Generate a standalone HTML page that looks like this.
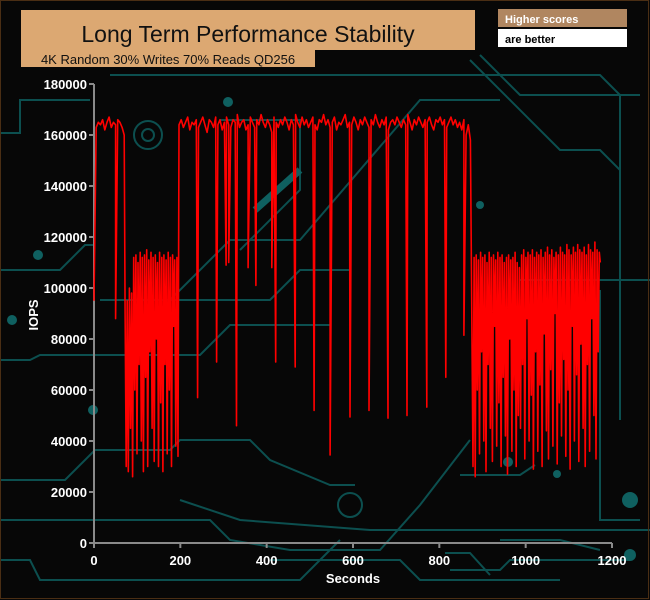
<!DOCTYPE html>
<html><head><meta charset="utf-8"><style>
html,body{margin:0;padding:0;background:#080808;}
#wrap{position:relative;width:650px;height:600px;overflow:hidden;background:#070707;font-family:"Liberation Sans",sans-serif;}
</style></head><body>
<div id="wrap">
<svg id="svg" width="650" height="600" viewBox="0 0 650 600">
<g id="bg" stroke="#0c4f4f" stroke-width="2" fill="none">
<path d="M0 270 L60 270 L85 245 L95 245"/>
<path d="M0 133 L20 133 L20 100 L90 100"/>
<path d="M100 300 L270 300 L300 270 L350 270"/>
<path d="M0 360 L30 360 L40 355 L200 355 L230 325 L330 325"/>
<path d="M150 320 L230 240 L300 240 L420 100 L500 100"/>
<path d="M0 480 L65 480 L95 450 L170 450 L180 440 L250 440 L270 460 L330 485 L355 485"/>
<path d="M0 520 L210 520 L230 540 L290 550 L380 550 L420 505 L470 440"/>
<path d="M0 560 L30 560 L40 580 L300 580 L340 540"/>
<path d="M180 500 L240 520 L370 530 L650 530"/>
<path d="M110 75 L600 75 L620 95 L620 200"/>
<path d="M480 55 L520 95 L640 95"/>
<path d="M470 60 L560 150 L600 150 L620 170 L620 420"/>
<path d="M220 120 L300 120 L300 190 L240 250"/>
<path d="M500 540 L560 540 L600 550"/>
<path d="M450 570 L500 570 L510 560 L630 560"/>
<path d="M445 553 L470 553 L490 575"/>
<path d="M520 280 L650 280 M600 290 L600 520 L640 520"/>
<path d="M460 475 L520 475 L535 465"/>
<path d="M270 560 L400 560 L420 580 L560 580"/>
<circle cx="148" cy="135" r="14"/><circle cx="148" cy="135" r="6"/>
<circle cx="350" cy="505" r="12"/>
</g>
<g fill="#0f6060">
<circle cx="38" cy="255" r="5"/><circle cx="93" cy="410" r="5"/><circle cx="630" cy="500" r="8"/><circle cx="630" cy="555" r="6"/>
<circle cx="228" cy="102" r="5"/><circle cx="508" cy="462" r="5"/><circle cx="557" cy="474" r="4"/><circle cx="480" cy="205" r="4"/>
<circle cx="12" cy="320" r="5"/>
</g>
<path d="M255 210 L300 170" stroke="#0f6060" stroke-width="7"/>
<rect x="0.5" y="0.5" width="648" height="598" fill="none" stroke="#4a2e14" stroke-width="1"/>
<rect x="21" y="10" width="454" height="40" fill="#dca872"/>
<text x="248" y="42" font-size="23" text-anchor="middle" fill="#111">Long Term Performance Stability</text>
<rect x="21" y="50" width="294" height="17" fill="#dca872"/>
<text x="168" y="64" font-size="13" text-anchor="middle" fill="#111">4K Random 30% Writes 70% Reads QD256</text>
<rect x="498" y="9" width="129" height="18" fill="#b08660"/>
<text x="505" y="23" font-size="11" font-weight="bold" fill="#fff">Higher scores</text>
<rect x="498" y="29" width="129" height="18" fill="#fff"/>
<text x="505" y="43" font-size="11" font-weight="bold" fill="#000">are better</text>
<g id="axes"></g>
<g id="series"></g>
</svg>
</div>
<script>
const yTicks=[0,20000,40000,60000,80000,100000,120000,140000,160000,180000];
const xTicks=[0,200,400,600,800,1000,1200];
const hiAStart=0, hiAStep=5;
const hiAValues=[95000,163000,165000,164000,166000,162000,165000,167000,163000,165000,164000,166000,165000,163000,160000];
const lowAStart=72, lowAStep=2.5;
const lowAValues=[90000,30000,95000,28000,100000,45000,98000,26000,112000,60000,113000,35000,110000,70000,114000,40000,112000,28000,113000,65000,115000,30000,111000,75000,114000,45000,112000,32000,113000,80000,110000,30000,114000,55000,112000,28000,113000,70000,111000,35000,114000,60000,112000,30000,113000,85000,111000,38000,112000,34000];
const hiBStart=197, hiBStep=5;
const hiBValues=[
164000,166000,163000,165000,167000,162000,165000,164000,166000,163000,
165000,167000,164000,161000,166000,165000,163000,167000,164000,166000,
162000,165000,167000,164000,163000,166000,165000,168000,163000,165000,
166000,162000,164000,167000,165000,163000,166000,164000,168000,165000,
163000,166000,164000,161000,167000,165000,163000,166000,164000,167000,
165000,162000,166000,164000,168000,165000,163000,167000,164000,166000,
163000,165000,167000,164000,162000,166000,165000,168000,164000,166000,
163000,165000,167000,162000,165000,164000,166000,168000,163000,165000,
164000,167000,165000,162000,166000,164000,167000,165000,163000,166000,
164000,168000,165000,163000,166000,164000,167000,162000,165000,166000,
164000,167000,165000,163000,166000,164000,168000,165000,162000,166000,
164000,167000,165000,163000,166000,165000,167000,164000,162000,166000,
165000,167000,164000,166000,163000,165000,167000,164000,166000,163000,
165000,162000,166000,160000,164000,158000];
const lowBStart=878, lowBStep=2.5;
const lowBValues=[
30000,112000,26000,113000,60000,111000,35000,114000,75000,112000,
40000,113000,28000,110000,70000,114000,45000,112000,32000,113000,
85000,111000,38000,114000,55000,112000,30000,113000,65000,110000,
42000,112000,27000,113000,80000,111000,36000,112000,60000,114000,
30000,110000,50000,108000,45000,113000,70000,115000,33000,112000,
88000,114000,40000,113000,58000,115000,29000,112000,75000,114000,
36000,113000,62000,115000,30000,112000,82000,114000,44000,116000,
33000,113000,68000,115000,38000,112000,90000,114000,31000,113000,
55000,116000,42000,114000,72000,113000,34000,117000,60000,115000,
29000,113000,85000,116000,40000,114000,66000,117000,32000,115000,
78000,114000,45000,116000,30000,113000,70000,117000,36000,115000,
88000,114000,50000,118000,33000,115000,75000,114000,110000];
const dipTimes=[50,240,284,306,312,330,357,375,412,421,466,510,547,593,637,681,725,771,815,857];
const dipValues=[88000,57000,71000,109000,110000,46000,108000,101000,108000,71000,69000,52000,34500,49400,52000,49000,50000,53300,65000,81500];

const X0=94, XW=518, Y0=543, YH=459;
function xs(t){return X0+t/1200*XW;}
function ys(v){return Y0-v/180000*YH;}
const NS="http://www.w3.org/2000/svg";
const axes=document.getElementById('axes');
const series=document.getElementById('series');
function mk(tag,attrs,parent){const e=document.createElementNS(NS,tag);for(const k in attrs)e.setAttribute(k,attrs[k]);parent.appendChild(e);return e;}

let yl=mk('line',{x1:X0,y1:Y0,x2:X0,y2:ys(180000),stroke:'#8a8a8a','stroke-width':2},axes);


let xl=mk('line',{x1:X0,y1:Y0,x2:xs(1200),y2:Y0,stroke:'#8a8a8a','stroke-width':2},axes);


yTicks.forEach(v=>{
  let tk=mk('line',{x1:X0-5,y1:ys(v),x2:X0,y2:ys(v),stroke:'#8a8a8a','stroke-width':2},axes);
  
  
  let t=mk('text',{x:X0-7,y:ys(v)+5,'font-size':13,'font-weight':'bold',fill:'#fff','text-anchor':'end'},axes);
  t.textContent=v;
  
  
});
xTicks.forEach(v=>{
  let tk=mk('line',{x1:xs(v),y1:Y0,x2:xs(v),y2:Y0+5,stroke:'#8a8a8a','stroke-width':2},axes);
  
  
  let t=mk('text',{x:xs(v),y:Y0+22,'font-size':13,'font-weight':'bold',fill:'#fff','text-anchor':'middle'},axes);
  t.textContent=v;
  
  
});
let xt=mk('text',{x:353,y:583,'font-size':13,'font-weight':'bold',fill:'#fff','text-anchor':'middle'},axes);
xt.textContent='Seconds';


let yt=mk('text',{x:0,y:0,'font-size':13,'font-weight':'bold',fill:'#fff','text-anchor':'middle',transform:'translate(38,315) rotate(-90)'},axes);
yt.textContent='IOPS';



let pts=[];
function addSeg(start,step,vals){vals.forEach((v,i)=>pts.push([start+i*step,v]));}
addSeg(hiAStart,hiAStep,hiAValues);
addSeg(lowAStart,lowAStep,lowAValues);
addSeg(hiBStart,hiBStep,hiBValues);
addSeg(lowBStart,lowBStep,lowBValues);
dipTimes.forEach((t,i)=>pts.push([t,dipValues[i]]));
pts.sort((a,b)=>a[0]-b[0]);
let d=pts.map((p,i)=>(i?'L':'M')+xs(p[0]).toFixed(1)+' '+ys(p[1]).toFixed(1)).join(' ');
let line=mk('path',{d:d,fill:'none',stroke:'#ff0000','stroke-width':1.6,'stroke-linejoin':'round'},series);


</script>
</body></html>
